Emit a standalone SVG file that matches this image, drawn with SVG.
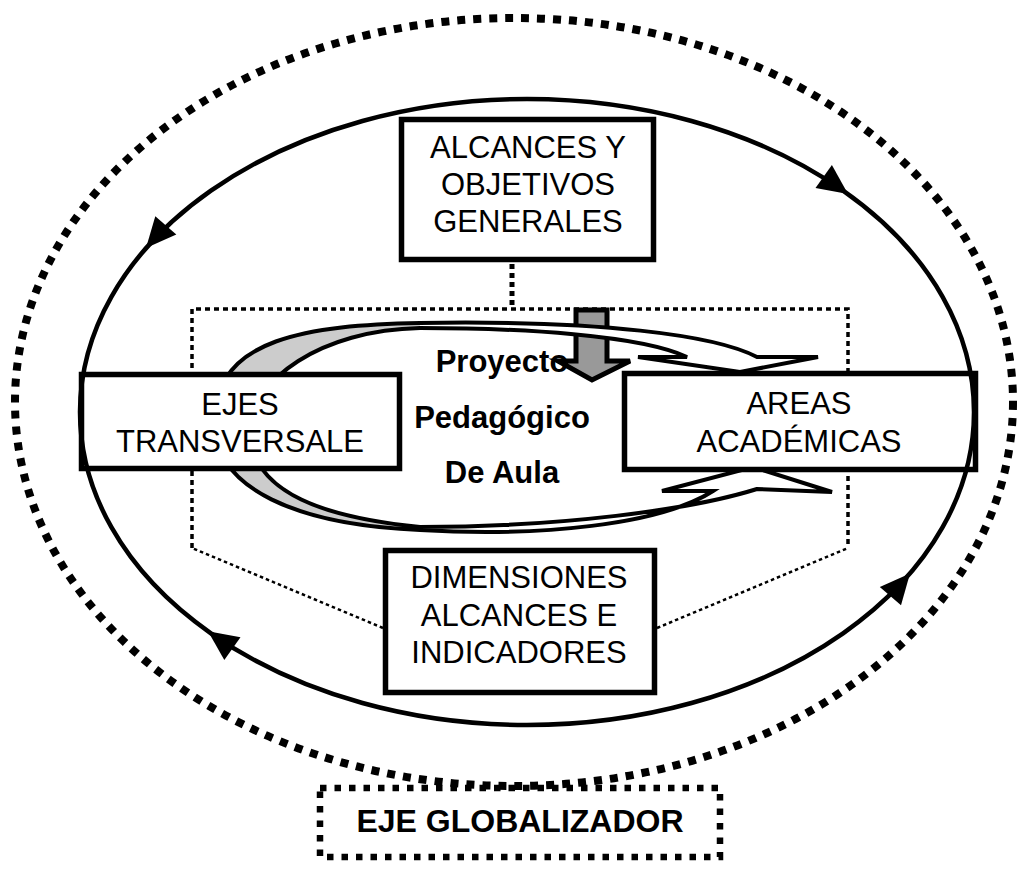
<svg xmlns="http://www.w3.org/2000/svg" xmlns:xlink="http://www.w3.org/1999/xlink" width="1017" height="869" viewBox="0 0 1017 869">
<style>
.box{fill:#fff;stroke:#000;stroke-width:5.5}
.lbl{font-family:"Liberation Sans",Arial,sans-serif;font-size:31px;fill:#000;text-anchor:middle}
.bold{font-weight:bold}
.cyc{fill:none;stroke:#000;stroke-width:4.5}
.head{fill:#000;stroke:none}
</style>
<defs>
<path id="band" d="M757,357 C715,335 600,320 420,323 C310,325 214,338 215,420 C212,490 300,525 420,530 C540,537 660,525 713,491 L662,491 L753,467 L832,492 L757,489 C690,510 560,527 420,527 C330,518 250,495 250,430 C252,380 320,330 420,328 C520,328 640,335 687,357 L638,357 L740,372 L818,357 Z"/>
</defs>
<rect width="1017" height="869" fill="#fff"/>

<g id="connectors">
  <ellipse cx="514" cy="402" rx="499" ry="384" fill="none" stroke="#000" stroke-width="8" stroke-dasharray="8 8"/>
  <path d="M192,548 L192,309 L848,309 L848,548" fill="none" stroke="#000" stroke-width="3.5" stroke-dasharray="5 4"/>
  <path d="M383,628 L192,548 M657,628 L848,548" fill="none" stroke="#000" stroke-width="2.5" stroke-dasharray="3.5 3"/>
  <path d="M512,264 L512,307" fill="none" stroke="#000" stroke-width="5" stroke-dasharray="5 4"/>
</g>

<g id="proyecto">
  <text class="lbl bold" x="502" y="372">Proyecto</text>
  <text class="lbl bold" x="502" y="428">Pedagógico</text>
  <text class="lbl bold" x="502" y="483">De Aula</text>
</g>

<g id="down-arrow">
  <polygon points="576,310 607,310 607,361 630,361 592,380 558,361 576,361" fill="#999" stroke="#000" stroke-width="5" stroke-linejoin="miter"/>
</g>

<g id="loop-arrow">
  <use xlink:href="#band" fill="#fff" stroke="none"/>
  <path d="M420,323 C310,325 214,338 215,420 C212,490 300,525 420,530 L420,527 C330,518 250,495 250,430 C252,380 320,330 420,328 Z" fill="#cccccc"/>
  <use xlink:href="#band" fill="none" stroke="#000" stroke-width="4" stroke-linejoin="miter"/>
</g>

<g id="alcances">
  <rect class="box" x="401.5" y="119.5" width="252" height="140"/>
  <text class="lbl" x="528" y="158">ALCANCES Y</text>
  <text class="lbl" x="528" y="195">OBJETIVOS</text>
  <text class="lbl" x="528" y="232">GENERALES</text>
</g>

<g id="ejes">
  <rect class="box" x="81.5" y="374.5" width="318" height="94"/>
  <text class="lbl" x="240" y="415">EJES</text>
  <text class="lbl" x="240" y="452">TRANSVERSALE</text>
</g>

<g id="areas">
  <rect class="box" x="624.5" y="373.5" width="351" height="96"/>
  <text class="lbl" x="799" y="414">AREAS</text>
  <text class="lbl" x="799" y="452">ACADÉMICAS</text>
</g>

<g id="dimensiones">
  <rect class="box" x="385.5" y="550.5" width="269" height="142"/>
  <text class="lbl" x="519" y="588">DIMENSIONES</text>
  <text class="lbl" x="519" y="625.5">ALCANCES E</text>
  <text class="lbl" x="519" y="663">INDICADORES</text>
</g>

<g id="cycle">
  <ellipse class="cyc" cx="527" cy="412" rx="447" ry="313"/>
  <polygon class="head" points="146,248 176.3,234.6 155.3,216.2"/>
  <polygon class="head" points="848,194 815.5,187.9 831.9,165.1"/>
  <polygon class="head" points="910,573.5 901,605.3 879.8,587.1"/>
  <polygon class="head" points="208,631.3 240.5,637.3 224.3,660.1"/>
</g>

<g id="eje-globalizador">
  <rect x="320" y="788" width="400" height="69" fill="none" stroke="#000" stroke-width="6.5" stroke-dasharray="6.5 8"/>
  <text class="lbl bold" x="520" y="832" style="font-size:32px">EJE GLOBALIZADOR</text>
</g>
</svg>
